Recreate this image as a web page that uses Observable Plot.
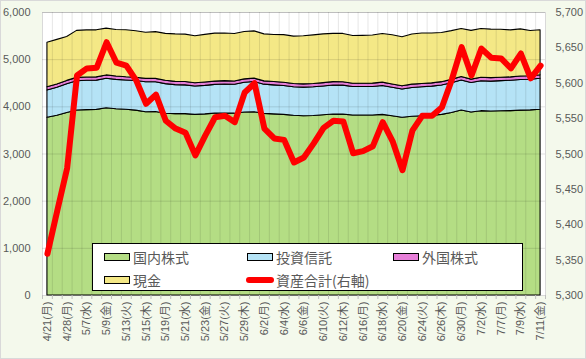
<!DOCTYPE html>
<html><head><meta charset="utf-8">
<script src="https://cdn.jsdelivr.net/npm/d3@7"></script>
<script src="https://cdn.jsdelivr.net/npm/@observablehq/plot@0.6"></script>
<style>
html,body{margin:0;padding:0;background:#f4f9ec;}
#chart{position:relative;width:586px;height:359px;box-sizing:border-box;border:1px solid #d9d9d9;background:#f4f9ec;overflow:hidden;}
#chart svg{position:absolute;left:0;top:0;}
#legend{position:absolute;left:91px;top:242px;width:431px;height:48px;box-sizing:border-box;background:#fff;border:1px solid #000;font-family:"Noto Sans CJK JP","Liberation Sans",sans-serif;font-size:14px;color:#595959;}
.item{position:absolute;display:flex;align-items:center;height:20px;line-height:20px;}
.sw{width:26px;height:8px;border:1.5px solid #000;box-sizing:border-box;margin-right:3px;}
.ln{width:28px;height:6px;border-radius:3px;background:#ff0000;margin-right:2px;}
</style></head>
<body>
<div id="chart"></div>
<script>
const dates = ["4/21(月)","4/25(金)","4/28(月)","5/2(金)","5/7(水)","5/8(木)","5/9(金)","5/12(月)","5/13(火)","5/14(水)","5/15(木)","5/16(金)","5/19(月)","5/20(火)","5/21(水)","5/22(木)","5/23(金)","5/26(月)","5/27(火)","5/28(水)","5/29(木)","5/30(金)","6/2(月)","6/3(火)","6/4(水)","6/5(木)","6/6(金)","6/9(月)","6/10(火)","6/11(水)","6/12(木)","6/13(金)","6/16(月)","6/17(火)","6/18(水)","6/19(木)","6/20(金)","6/23(月)","6/24(火)","6/25(水)","6/26(木)","6/27(金)","6/30(月)","7/1(火)","7/2(水)","7/4(金)","7/7(月)","7/8(火)","7/9(水)","7/10(木)","7/11(金)"];
const seriesNames = ["国内株式","投資信託","外国株式","現金"];
const seriesColors = ["#b4dd84","#b5e3f6","#e77fd9","#f4e886"];
const domesticStocks = [3767,3810,3870,3922,3930,3935,3971,3950,3937,3920,3886,3890,3852,3845,3845,3830,3840,3855,3860,3855,3880,3886,3850,3840,3830,3810,3800,3805,3820,3837,3835,3815,3815,3816,3830,3800,3767,3790,3800,3810,3830,3870,3922,3880,3908,3900,3905,3910,3920,3925,3937];
const investmentTrusts = [579,595,610,622,622,620,623,622,621,628,636,632,630,615,610,600,605,610,615,612,630,640,620,615,612,605,608,610,612,615,615,605,604,606,612,605,600,610,615,618,622,630,636,625,636,635,640,642,648,650,657];
const foreignStocks = [68,69,70,70,70,70,72,71,70,70,70,70,70,70,70,69,70,70,70,70,72,72,70,70,70,69,69,70,70,71,71,70,70,70,71,70,68,70,70,70,71,72,73,72,73,73,73,73,74,74,74];
const cash = [945,946,930,997,999,997,992,986,997,986,979,992,995,1006,1005,999,1011,1017,1009,1008,1005,1002,996,997,1008,1004,1018,1030,1035,1024,1025,1011,1015,1019,1032,1043,1042,1063,1069,1056,1043,1033,1020,1034,1032,1028,1017,996,1000,958,957];
const totalAssets = [5359,5420,5480,5611,5621,5622,5658,5629,5625,5604,5571,5584,5547,5536,5530,5498,5526,5552,5554,5545,5587,5600,5536,5522,5520,5488,5495,5515,5537,5547,5546,5501,5504,5511,5545,5518,5477,5533,5554,5554,5566,5605,5651,5611,5649,5636,5635,5621,5642,5607,5625];
const leftTicks = [0,1000,2000,3000,4000,5000,6000];
const rightTicks = [5300,5350,5400,5450,5500,5550,5600,5650,5700];
const rightMin = 5300, rightMax = 5700, leftMax = 6000;

const seriesValues = [domesticStocks, investmentTrusts, foreignStocks, cash];
const long = [];
seriesNames.forEach((s, k) => seriesValues[k].forEach((v, i) => long.push({i, series: s, value: v})));
const rows = totalAssets.map((t, i) => ({i, total: t}));
const toLeft = v => (v - rightMin) * leftMax / (rightMax - rightMin);
const toRight = v => rightMin + v * (rightMax - rightMin) / leftMax;
const n = dates.length;
const bounds = d3.range(n + 1).map(k => k - 0.5);
const inner = bounds.slice(1, -1);
const labelIdx = d3.range(0, n, 2);
const font = '"Liberation Sans","Noto Sans CJK JP",sans-serif';

const plot = Plot.plot({
  width: 584, height: 357,
  marginLeft: 41, marginRight: 40, marginTop: 11, marginBottom: 63,
  style: {fontFamily: font, fontSize: "11px", color: "#595959", background: "transparent"},
  x: {domain: [-0.5, n - 0.5], label: null},
  y: {domain: [0, leftMax], label: null},
  color: {domain: seriesNames, range: seriesColors},
  marks: [
    Plot.frame({fill: "#ffffff", stroke: "#d9d9d9"}),
    Plot.areaY(long, {x: "i", y: "value", z: "series", fill: "series", stroke: "#000", strokeWidth: 1.1}),
    Plot.ruleX(inner, {stroke: "#000", strokeOpacity: 0.1}),
    Plot.ruleY(leftTicks.slice(1), {stroke: "#000", strokeOpacity: 0.12}),
    Plot.lineY(rows, {x: "i", y: d => toLeft(d.total), stroke: "#ff0000", strokeWidth: 6, strokeLinejoin: "round", strokeLinecap: "round"}),
    Plot.axisY({ticks: leftTicks, tickFormat: d3.format(","), tickSize: 0, tickPadding: 12, fill: "#595959", label: null}),
    Plot.axisY({anchor: "right", ticks: rightTicks.map(toLeft), tickFormat: d => d3.format(",")(Math.round(toRight(d))), tickSize: 0, tickPadding: 10, fill: "#595959", label: null}),
    Plot.axisX({ticks: bounds, tickSize: 4, tickFormat: () => "", stroke: "#bfbfbf", label: null}),
    Plot.axisX({ticks: labelIdx, tickFormat: i => dates[i], tickRotate: -90, tickSize: 0, tickPadding: 6, fill: "#595959", label: null})
  ]
});
const chart = document.getElementById("chart");
chart.appendChild(plot);

const legend = document.createElement("div");
legend.id = "legend";
const items = [
  {name: seriesNames[0], color: seriesColors[0], left: 11, top: 3},
  {name: seriesNames[1], color: seriesColors[1], left: 154, top: 3},
  {name: seriesNames[2], color: seriesColors[2], left: 300, top: 3},
  {name: seriesNames[3], color: seriesColors[3], left: 11, top: 26},
  {name: "資産合計(右軸)", line: true, left: 153, top: 26}
];
items.forEach(it => {
  const d = document.createElement("div");
  d.className = "item";
  d.style.left = it.left + "px";
  d.style.top = it.top + "px";
  const s = document.createElement("span");
  if (it.line) s.className = "ln"; else { s.className = "sw"; s.style.background = it.color; }
  d.appendChild(s);
  const t = document.createElement("span");
  t.textContent = it.name;
  d.appendChild(t);
  legend.appendChild(d);
});
chart.appendChild(legend);
</script>
</body></html>
